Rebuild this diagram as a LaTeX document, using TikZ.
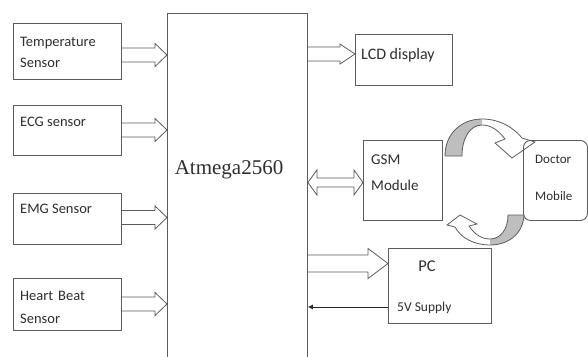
\documentclass[tikz,border=0pt]{standalone}
\usepackage{fontspec}
\setmainfont{Carlito}
\newfontfamily\chipfont{Liberation Serif}
\usetikzlibrary{arrows.meta,calc}
\definecolor{Ink}{HTML}{2E2E2E}
\definecolor{Edge}{HTML}{5C5C5C}
\definecolor{Band}{HTML}{BEBEBE}
\tikzset{
  block/.style={draw=Edge,line width=0.9pt,inner sep=0pt,anchor=north west},
  lbl/.style={text=Ink,inner sep=0pt,anchor=west,align=left},
  fatline/.style={draw=Edge,line width=0.8pt,line join=miter},
}
% wide hollow arrow: shaft half, head half, head length, from, to
\newcommand{\fatarrow}[5]{%
  \draw[fatline] ($(#4)+(0,-#1)$) -- ($(#5)+(-#3,-#1)$) -- ($(#5)+(-#3,-#2)$) -- (#5)
    -- ($(#5)+(-#3,#2)$) -- ($(#5)+(-#3,#1)$) -- ($(#4)+(0,#1)$);}
\newcommand{\fatdouble}[5]{%
  \draw[fatline] (#4) -- ($(#4)+(#3,-#2)$) -- ($(#4)+(#3,-#1)$) -- ($(#5)+(-#3,-#1)$)
    -- ($(#5)+(-#3,-#2)$) -- (#5) -- ($(#5)+(-#3,#2)$) -- ($(#5)+(-#3,#1)$)
    -- ($(#4)+(#3,#1)$) -- ($(#4)+(#3,#2)$) -- cycle;}

\begin{document}
\begin{tikzpicture}[x=1pt,y=-1pt]
\useasboundingbox (0,0) rectangle (588,356);
% sensors
\node[block,minimum width=108pt,minimum height=56pt] (tsens) at (13,23) {};
\node[block,minimum width=108pt,minimum height=50pt] (ecg) at (13,105) {};
\node[block,minimum width=108pt,minimum height=51pt] (emg) at (13,193) {};
\node[block,minimum width=108pt,minimum height=52pt] (hbeat) at (13,278) {};
\node[lbl,font=\fontsize{14.5}{17.5}\selectfont] (tsenstxt) at (20,52.5) {Temperature\\[3.5pt]Sensor};
\node[lbl,font=\fontsize{14.5}{17.5}\selectfont] (ecgtxt) at (20,122) {ECG sensor};
\node[lbl,font=\fontsize{14.5}{17.5}\selectfont] (emgtxt) at (20,209) {EMG Sensor};
\node[lbl,font=\fontsize{14.5}{17.5}\selectfont] (hbeattxt) at (20,307.5) {Heart\,\,Beat\\[5.5pt]Sensor};
% controller
\node[block,minimum width=140pt,minimum height=360pt] (mcu) at (167,13) {};
\node[font=\chipfont\fontsize{21}{25}\selectfont,text=Ink] (mcutxt) at (229,170) {Atmega2560};
% outputs
\node[block,minimum width=97pt,minimum height=51pt] (lcd) at (355,34) {};
\node[block,minimum width=79pt,minimum height=80pt] (gsm) at (363,140) {};
\node[block,rounded corners=7pt,minimum width=64pt,minimum height=80pt] (doc) at (523,140) {};
\node[block,minimum width=103pt,minimum height=75pt] (pc) at (388,248) {};
\node[lbl,font=\fontsize{16}{19}\selectfont] (lcdtxt) at (361,55) {LCD display};
\node[lbl,font=\fontsize{15}{18}\selectfont] (gsmtxt) at (371,173) {GSM\\[8pt]Module};
\node[lbl,font=\fontsize{13}{15.5}\selectfont] (doctxt) at (535,178) {Doctor\\[22pt]Mobile};
\node[font=\fontsize{16.5}{19}\selectfont,text=Ink,inner sep=0pt] (pctxt) at (427,266) {PC};
\node[lbl,font=\fontsize{13.5}{16}\selectfont] (supplytxt) at (397,308) {5V Supply};
% wide arrows
\fatarrow{7}{11.5}{12}{tsens.east |- 0,55}{mcu.west |- 0,55}
\fatarrow{7}{11.5}{12}{ecg.east |- 0,130}{mcu.west |- 0,130}
\fatarrow{7}{11.5}{12}{emg.east |- 0,217.5}{mcu.west |- 0,217.5}
\fatarrow{7}{11.5}{12}{hbeat.east |- 0,304}{mcu.west |- 0,304}
\fatarrow{7}{10}{15}{mcu.east |- 0,54}{lcd.west |- 0,54}
\fatarrow{8.5}{15}{20}{mcu.east |- 0,263.5}{pc.west |- 0,263.5}
\fatdouble{4.5}{12.5}{9}{mcu.east |- 0,182.5}{gsm.west |- 0,182.5}
\draw[-{Latex[length=5pt,width=5pt]},black!85,line width=0.7pt] (pc.west |- 0,307) -- (mcu.east |- 0,307);
% curved arrows gsm <-> doctor
\fill[Band] (445,156) .. controls (445,133) and (462,119) .. (482,119) -- (482,125)
  .. controls (470,125) and (462,138) .. (462,156) -- cycle;
\draw[fatline] (445,156) .. controls (445,133) and (462,119) .. (482,119)
  .. controls (500,119) and (514,128) .. (522,138) -- (535,142) -- (512,158) -- (495,143) -- (505,139)
  .. controls (498,130) and (491,125) .. (482,125) .. controls (470,125) and (462,138) .. (462,156) -- cycle;
\fill[Band] (524,215) .. controls (523,235) and (507,245) .. (490,245) -- (490,239)
  .. controls (500,239) and (508,230) .. (508,215) -- cycle;
\draw[fatline] (524,215) .. controls (523,235) and (507,245) .. (490,245)
  .. controls (474,245) and (461,238) .. (455,227) -- (447,225) -- (460,215) -- (477,224) -- (469,226)
  .. controls (475,235) and (482,239) .. (490,239) .. controls (500,239) and (508,230) .. (508,215) -- cycle;
\end{tikzpicture}
\end{document}
